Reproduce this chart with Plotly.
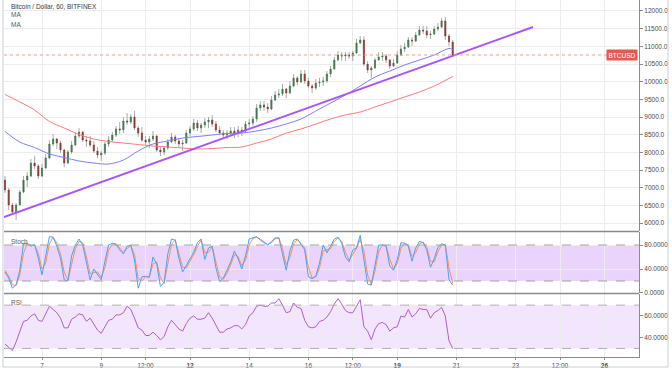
import pandas as pd
import plotly.graph_objects as go

# ---------------- data ----------------
title_text = "Bitcoin / Dollar, 60, BITFINEX"
symbol = "BTCUSD"
candle_start = "2018-02-05 18:00"   # 3-hour candles
first_open = 7217
close = [6934, 6510, 6311, 6510, 6877, 7217, 7330, 7698, 7613, 7330,
         7557, 7840, 8236, 8377, 8264, 8066, 7698, 8009, 8208, 8462,
         8576, 8349, 8321, 8208, 8038, 7925, 7981, 8236, 8349, 8491,
         8661, 8632, 8887, 8859, 9000, 8689, 8547, 8349, 8292, 8377,
         8462, 8066, 8009, 8123, 8292, 8434, 8321, 8236, 8264, 8547,
         8661, 8830, 8689, 8774, 8859, 8915, 8802, 8632, 8547, 8491,
         8547, 8604, 8547, 8632, 8604, 8802, 8830, 8943, 9255, 9340,
         9283, 9226, 9481, 9623, 9651, 9792, 9679, 9877, 10104, 9990,
         10217, 10019, 9877, 9821, 9962, 9990, 10019, 10217, 10358, 10613,
         10755, 10726, 10755, 10726, 10811, 11094, 11179, 10500, 10330, 10387,
         10613, 10698, 10726, 10613, 10443, 10528, 10755, 10924, 10981, 11179,
         11151, 11320, 11462, 11434, 11320, 11349, 11490, 11547, 11717, 11292,
         11122, 10755]
high = [7330, 6991, 6566, 6566, 6934, 7330, 7443, 7811, 7896, 7670,
        7670, 7953, 8349, 8519, 8406, 8321, 8094, 8066, 8321, 8576,
        8689, 8604, 8462, 8462, 8321, 8151, 8038, 8292, 8462, 8576,
        8745, 8859, 9000, 9113, 9085, 9170, 8745, 8717, 8462, 8462,
        8604, 8491, 8179, 8179, 8377, 8547, 8491, 8406, 8349, 8632,
        8745, 8943, 8915, 8830, 8972, 9000, 9057, 8887, 8745, 8632,
        8632, 8717, 8717, 8745, 8717, 8887, 8943, 9028, 9368, 9453,
        9453, 9396, 9594, 9736, 9792, 9934, 9821, 10018, 10217, 10160,
        10330, 10330, 10104, 9934, 10075, 10104, 10132, 10302, 10443, 10698,
        10868, 10839, 10839, 10839, 10868, 11207, 11292, 11292, 10585, 10443,
        10670, 10839, 10839, 10783, 10641, 10641, 10868, 11038, 11094, 11264,
        11264, 11405, 11575, 11575, 11575, 11434, 11575, 11660, 11802, 11830,
        11349, 11179]
low = [6849, 6368, 6227, 6085, 6510, 6849, 7019, 7302, 7528, 7245,
       7302, 7528, 7811, 8179, 8094, 7981, 7585, 7670, 7953, 8180,
       8406, 8292, 8151, 8151, 7981, 7840, 7755, 7925, 8151, 8292,
       8434, 8519, 8547, 8774, 8802, 8632, 8434, 8292, 8208, 8123,
       8321, 8009, 7896, 7925, 8066, 8264, 8236, 8123, 8038, 8236,
       8462, 8604, 8604, 8547, 8689, 8689, 8717, 8576, 8491, 8377,
       8377, 8462, 8406, 8434, 8462, 8547, 8689, 8745, 8859, 9170,
       9170, 9113, 9198, 9453, 9538, 9594, 9538, 9651, 9849, 9906,
       9962, 9934, 9821, 9679, 9764, 9849, 9877, 9962, 10132, 10330,
       10585, 10585, 10585, 10641, 10585, 10783, 11066, 10443, 10245, 10104,
       10358, 10585, 10585, 10528, 10358, 10415, 10500, 10726, 10839, 10953,
       11009, 11122, 11292, 11349, 11236, 11207, 11320, 11434, 11519, 11179,
       11009, 10698]

# moving averages, read every 12 hours plus the last candle
ma_blue = [8590, 8292, 8137, 7953, 7854, 7755, 7698, 7670, 7783, 8038,
           8236, 8321, 8406, 8448, 8491, 8533, 8547, 8604, 8689, 8802,
           8943, 9170, 9396, 9623, 9877, 10132, 10302, 10472, 10613, 10755,
           10939, 10910]
ma_red = [9637, 9425, 9198, 8872, 8689, 8505, 8377, 8306, 8264, 8222,
          8179, 8151, 8123, 8094, 8108, 8137, 8151, 8264, 8377, 8547,
          8660, 8802, 8943, 9057, 9141, 9283, 9424, 9566, 9707, 9877,
          10090, 10146]

stoch_k = [35, 25, 8, 14, 38, 82, 83, 78, 81, 58,
           30, 62, 94, 93, 78, 58, 22, 20, 62, 80,
           90, 80, 50, 22, 40, 32, 22, 53, 80, 83,
           81, 72, 65, 78, 80, 55, 8, 27, 28, 26,
           60, 48, 11, 18, 65, 90, 88, 58, 35, 46,
           57, 68, 84, 90, 56, 75, 78, 42, 19, 25,
           38, 52, 70, 57, 40, 62, 90, 92, 94, 88,
           84, 80, 86, 92, 92, 65, 38, 70, 88, 90,
           80, 72, 27, 24, 28, 50, 80, 67, 78, 90,
           93, 83, 60, 52, 72, 75, 96, 55, 15, 13,
           50, 80, 80, 78, 45, 38, 55, 84, 83, 78,
           53, 75, 86, 84, 72, 43, 57, 76, 82, 80,
           22, 13]
stoch_d = [38, 28, 14, 12, 30, 66, 82, 80, 80, 66,
           40, 50, 82, 93, 83, 65, 35, 21, 48, 74,
           86, 84, 60, 32, 34, 35, 26, 42, 71, 82,
           82, 75, 68, 74, 79, 64, 24, 20, 27, 27,
           48, 52, 25, 16, 48, 81, 89, 68, 43, 42,
           53, 64, 78, 88, 67, 68, 77, 54, 27, 23,
           33, 47, 64, 61, 46, 54, 80, 91, 93, 90,
           85, 81, 84, 90, 92, 74, 47, 59, 82, 89,
           83, 75, 43, 25, 27, 42, 70, 72, 74, 86,
           92, 86, 68, 55, 65, 74, 89, 70, 30, 14,
           37, 69, 80, 79, 56, 40, 49, 74, 83, 80,
           61, 67, 82, 85, 76, 53, 52, 69, 80, 81,
           42, 16]
rsi = [34, 31, 28, 36, 45, 55, 56, 60, 62, 56,
       55, 62, 69, 66, 63, 58, 49, 49, 57, 59,
       62, 61, 55, 58, 52, 47, 44, 50, 56, 57,
       61, 61, 63, 69, 66, 58, 49, 47, 42, 42,
       45, 42, 38, 41, 50, 56, 52, 48, 46, 53,
       58, 60, 57, 57, 58, 63, 58, 52, 45, 45,
       48, 49, 51, 51, 48, 52, 60, 63, 69, 70,
       69, 69, 72, 72, 76, 70, 63, 64, 72, 68,
       67, 56, 50, 49, 50, 55, 56, 59, 64, 71,
       76, 71, 65, 63, 63, 69, 75, 50, 46, 38,
       48, 53, 54, 52, 46, 49, 50, 60, 59, 66,
       59, 62, 67, 66, 66, 58, 63, 65, 68, 60,
       37, 30]

trend_time = ["2018-02-05 17:11", "2018-02-23 14:07"]
trend_price = [6170, 11547]
last_price = 10755

price_ticks = [6000, 6500, 7000, 7500, 8000, 8500, 9000, 9500, 10000,
               10500, 11000, 11500, 12000]
stoch_ticks = [0, 40, 80]
stoch_band = [20, 80]
rsi_ticks = [40, 60]
rsi_band = [30, 70]
x_tick_times = ["2018-02-07", "2018-02-09", "2018-02-10 12:00", "2018-02-12",
                "2018-02-14", "2018-02-16", "2018-02-17 12:00", "2018-02-19",
                "2018-02-21", "2018-02-23", "2018-02-24 12:00", "2018-02-26"]
x_tick_text = ["7", "9", "12:00", "<b>12</b>", "14", "16", "12:00", "<b>19</b>",
               "21", "23", "12:00", "<b>26</b>"]
x_range = ["2018-02-05 17:11", "2018-02-27 04:03"]

# ---------------- build ----------------
times = pd.date_range(candle_start, periods=len(close), freq="3h")
opens = [first_open] + close[:-1]
body_hi = [max(o, c) for o, c in zip(opens, close)]
body_lo = [min(o, c) for o, c in zip(opens, close)]
ma_times = list(times[0::4]) + [times[-1]]

FONT = "Liberation Sans, Arial, sans-serif"
GRID = "#ececec"
TXT = "#4a4a4a"
UP, DOWN, WICK = "#3b7a48", "#8f3429", "#ababab"

fig = go.Figure()

# wicks
fig.add_trace(go.Candlestick(
    x=times, open=opens, high=high, low=low, close=close,
    increasing=dict(line=dict(color=WICK, width=1), fillcolor=WICK),
    decreasing=dict(line=dict(color=WICK, width=1), fillcolor=WICK),
    whiskerwidth=0, showlegend=False, xaxis="x", yaxis="y", hoverinfo="skip"))
# bodies
fig.add_trace(go.Candlestick(
    x=times, open=opens, high=body_hi, low=body_lo, close=close,
    increasing=dict(line=dict(color=UP, width=0.5), fillcolor=UP),
    decreasing=dict(line=dict(color=DOWN, width=0.5), fillcolor=DOWN),
    whiskerwidth=0, showlegend=False, xaxis="x", yaxis="y", hoverinfo="skip"))

fig.add_trace(go.Scatter(x=ma_times, y=ma_red, mode="lines",
                         line=dict(color="#ff7a7a", width=1, shape="spline"),
                         showlegend=False, xaxis="x", yaxis="y"))
fig.add_trace(go.Scatter(x=ma_times, y=ma_blue, mode="lines",
                         line=dict(color="#7f7ff5", width=1, shape="spline"),
                         showlegend=False, xaxis="x", yaxis="y"))
fig.add_trace(go.Scatter(x=trend_time, y=trend_price, mode="lines",
                         line=dict(color="#a855f7", width=2),
                         showlegend=False, xaxis="x", yaxis="y"))

fig.add_trace(go.Scatter(x=times, y=stoch_d, mode="lines",
                         line=dict(color="#f7925a", width=1),
                         showlegend=False, xaxis="x2", yaxis="y2"))
fig.add_trace(go.Scatter(x=times, y=stoch_k, mode="lines",
                         line=dict(color="#4aa3f0", width=1),
                         showlegend=False, xaxis="x2", yaxis="y2"))
fig.add_trace(go.Scatter(x=times, y=rsi, mode="lines",
                         line=dict(color="#b05fc8", width=1),
                         showlegend=False, xaxis="x3", yaxis="y3"))

xcommon = dict(type="date", range=x_range, tickvals=x_tick_times, ticktext=x_tick_text,
               showgrid=True, gridcolor=GRID, gridwidth=1, zeroline=False,
               rangeslider=dict(visible=False))
ycommon = dict(side="right", showgrid=True, gridcolor=GRID, zeroline=False,
               showline=True, linecolor="#8c8c8c", linewidth=1,
               ticks="outside", ticklen=3, tickcolor="#8c8c8c",
               tickfont=dict(family=FONT, size=6.5, color=TXT))

fig.update_layout(
    width=672, height=372, autosize=False,
    margin=dict(l=4, r=33, t=0, b=15),
    paper_bgcolor="white", plot_bgcolor="white",
    font=dict(family=FONT, size=6.5, color=TXT),
    boxgap=0.6,
    xaxis=dict(**xcommon, anchor="y", showticklabels=False),
    xaxis2=dict(**xcommon, anchor="y2", matches="x", showticklabels=False),
    xaxis3=dict(**xcommon, anchor="y3", matches="x", showticklabels=True,
                showline=True, linecolor="#8c8c8c", linewidth=1,
                ticks="outside", ticklen=2, tickcolor="#8c8c8c",
                tickfont=dict(family=FONT, size=6.5, color=TXT)),
    yaxis=dict(**ycommon, domain=[0.3529, 1.0], range=[5774, 12311],
               tickvals=price_ticks, tickformat=".1f"),
    yaxis2=dict(**ycommon, domain=[0.1793, 0.3501], range=[0, 101.7],
                tickvals=stoch_ticks, tickformat=".4f"),
    yaxis3=dict(**ycommon, domain=[0.0, 0.1765], range=[22.1, 80.3],
                tickvals=rsi_ticks, tickformat=".4f"),
    showlegend=False,
)

shapes = [
    # stoch band
    dict(type="rect", xref="x2 domain", yref="y2", x0=0, x1=1,
         y0=stoch_band[0], y1=stoch_band[1], fillcolor="#e6cbfb",
         opacity=0.85, line=dict(width=0), layer="below"),
    dict(type="line", xref="x2 domain", yref="y2", x0=0, x1=1,
         y0=stoch_band[1], y1=stoch_band[1], line=dict(color="#a0a0a0", width=1, dash="dash")),
    dict(type="line", xref="x2 domain", yref="y2", x0=0, x1=1,
         y0=stoch_band[0], y1=stoch_band[0], line=dict(color="#a0a0a0", width=1, dash="dash")),
    # rsi band
    dict(type="rect", xref="x3 domain", yref="y3", x0=0, x1=1,
         y0=rsi_band[0], y1=rsi_band[1], fillcolor="#f3e5fd",
         line=dict(width=0), layer="below"),
    dict(type="line", xref="x3 domain", yref="y3", x0=0, x1=1,
         y0=rsi_band[1], y1=rsi_band[1], line=dict(color="#b0b0b0", width=1, dash="dash")),
    dict(type="line", xref="x3 domain", yref="y3", x0=0, x1=1,
         y0=rsi_band[0], y1=rsi_band[0], line=dict(color="#b0b0b0", width=1, dash="dash")),
    # last price line
    dict(type="line", xref="x domain", yref="y", x0=0, x1=1,
         y0=last_price, y1=last_price, line=dict(color="#f19a92", width=1, dash="dot")),
    # pane separators
    dict(type="line", xref="paper", yref="paper", x0=0, x1=1.0, y0=0.3515, y1=0.3515,
         line=dict(color="#8a8a8a", width=1.5)),
    dict(type="line", xref="paper", yref="paper", x0=0, x1=1.0, y0=0.1779, y1=0.1779,
         line=dict(color="#8a8a8a", width=1.5)),
    # outer frame
    dict(type="rect", xref="paper", yref="paper", x0=-0.0016, x1=1.0457, y0=-0.028, y1=1.01,
         line=dict(color="#c9ced6", width=1), fillcolor="rgba(0,0,0,0)"),
]
fig.update_layout(shapes=shapes)

ann = [
    dict(text=title_text, x=0.008, y=0.983, font=dict(size=6.5, color="#3a3a3a")),
    dict(text="MA", x=0.008, y=0.958, font=dict(size=6.5, color="#5a5a5a")),
    dict(text="MA", x=0.008, y=0.930, font=dict(size=6.5, color="#5a5a5a")),
    dict(text="Stoch", x=0.008, y=0.3235, font=dict(size=6.5, color="#5a5a5a")),
    dict(text="RSI", x=0.008, y=0.152, font=dict(size=6.5, color="#5a5a5a")),
]
for a in ann:
    fig.add_annotation(xref="paper", yref="paper", xanchor="left", yanchor="middle",
                       showarrow=False, font_family=FONT, **a)
fig.add_annotation(xref="paper", yref="y", x=0.999, y=last_price, xanchor="right",
                   yanchor="middle", text=symbol, showarrow=False,
                   bgcolor="#e35b4f", borderpad=1.5,
                   font=dict(family=FONT, size=6.5, color="white"))

fig.write_html("out.html", config={"displayModeBar": False},
               post_script="document.body.style.margin='0px';"
                           "document.body.style.overflow='hidden';")
